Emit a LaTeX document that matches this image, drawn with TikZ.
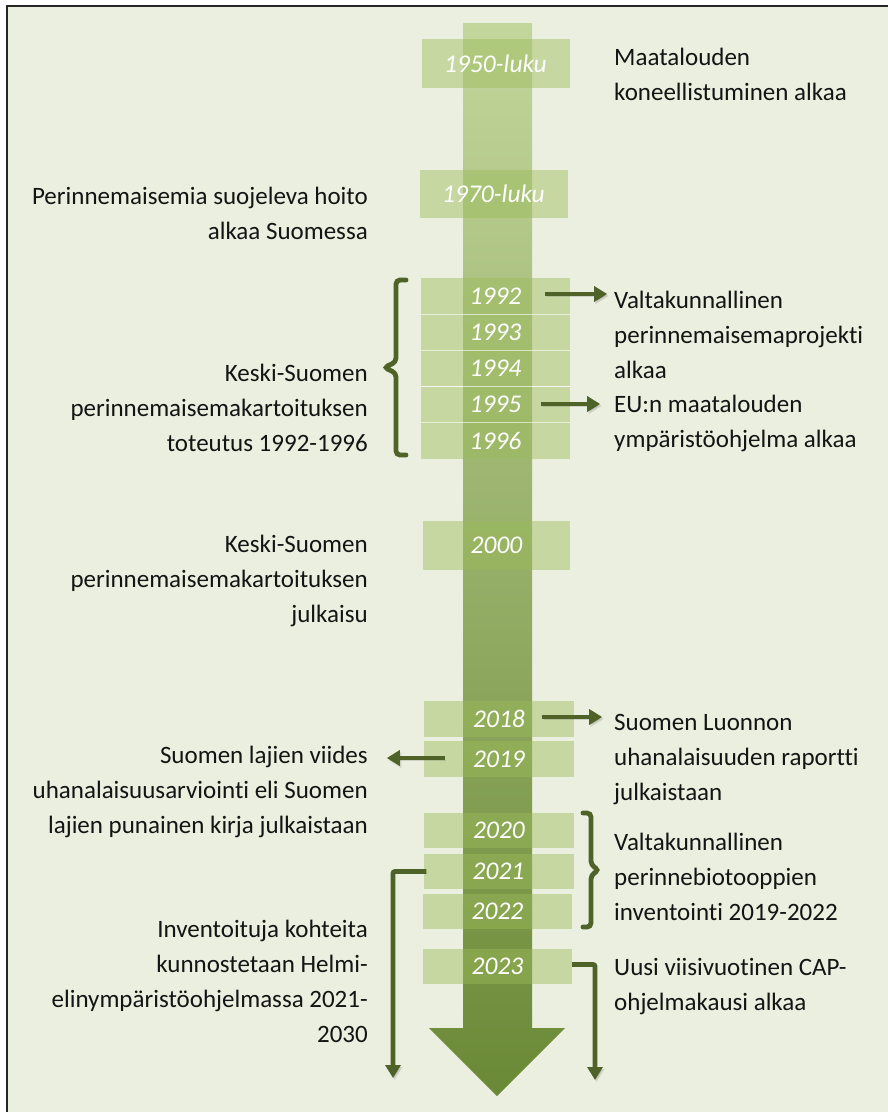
\documentclass[tikz,border=0pt]{standalone}
\usepackage{fontspec}
\setmainfont{Carlito}[Ligatures={NoCommon}]
\usetikzlibrary{arrows.meta}
\definecolor{bg}{HTML}{EBEFDF}
\definecolor{frame}{HTML}{262626}
\definecolor{arr}{HTML}{4F6228}
\definecolor{boxc}{HTML}{9BBB59}
\definecolor{coltop}{HTML}{C3D69C}
\definecolor{colmid}{HTML}{9FBE5F}
\definecolor{colbot}{HTML}{6A8936}
\tikzset{
  yearbox/.style={fill=boxc, fill opacity=0.45, text opacity=1, text=white,
    font=\fontsize{25.5}{30}\selectfont\itshape, inner sep=0pt,
    minimum width=148pt, minimum height=36pt},
  lbl/.style={font=\fontsize{25}{35}\selectfont, inner sep=0pt, text=black!92},
  lblL/.style={lbl, align=left, anchor=base west},
  lblR/.style={lbl, align=right, anchor=base east},
  softshadow/.style={preaction={draw=black!70, opacity=0.18, transform canvas={xshift=1.5pt,yshift=-2pt}}},
  arrowline/.style={softshadow, draw=arr, line width=4.8pt, -{Triangle[width=15pt,length=13pt]}},
  braceline/.style={softshadow, draw=arr, line width=4.8pt, rounded corners=4pt, line cap=round},
}
\begin{document}
\begin{tikzpicture}[x=1pt,y=-1pt]
\useasboundingbox (0,0) rectangle (888,1112);
\fill[white] (0,0) rectangle (888,1112);
\fill[bg] (7,5) rectangle (888,1112);
\draw[frame, line width=2pt] (6.5,1112) -- (6.5,5.5) -- (888,5.5);

% main column arrow
\shade[top color=coltop, middle color=colmid, bottom color=colbot]
  (463,23) -- (532,23) -- (532,1028) -- (565,1028) -- (497,1096) -- (429,1028) -- (463,1028) -- cycle;

% year boxes
\node[yearbox, minimum height=49pt] (y1950) at (495.5,63.5) {1950-luku};
\node[yearbox, minimum height=48pt] (y1970) at (493.5,194) {1970-luku};
\node[yearbox, minimum width=149pt] (y1992) at (495.5,296) {1992};
\node[yearbox, minimum width=149pt] (y1993) at (495.5,332) {1993};
\node[yearbox, minimum width=149pt] (y1994) at (495.5,368) {1994};
\node[yearbox, minimum width=149pt] (y1995) at (495.5,404.5) {1995};
\node[yearbox, minimum width=149pt] (y1996) at (495.5,441) {1996};
\draw[white, opacity=0.6, line width=1pt] (y1992.south west) -- (y1992.south east)
  (y1993.south west) -- (y1993.south east) (y1994.south west) -- (y1994.south east)
  (y1995.south west) -- (y1995.south east);
\node[yearbox, minimum width=147pt, minimum height=49pt] (y2000) at (496.5,545.5) {2000};
\node[yearbox, minimum width=150pt] (y2018) at (499,719) {2018};
\node[yearbox, minimum width=150pt] (y2019) at (499,759) {2019};
\node[yearbox, minimum width=150pt, minimum height=35pt] (y2020) at (499,830.5) {2020};
\node[yearbox, minimum width=150pt, minimum height=35pt] (y2021) at (498.5,871.5) {2021};
\node[yearbox, minimum width=149pt, minimum height=35pt] (y2022) at (497.5,911) {2022};
\node[yearbox, minimum width=149pt, minimum height=35pt] (y2023) at (497.5,966.5) {2023};

% texts right (anchored at the baseline of the last line)
\node[lblL] (t1950) at (614,100) {Maatalouden\\koneellistuminen alkaa};
\node[lblL] (t1992) at (614,378) {Valtakunnallinen\\perinnemaisemaprojekti\\alkaa};
\node[lblL] (t1995) at (614,447) {EU:n maatalouden\\ympäristöohjelma alkaa};
\node[lblL] (t2018) at (614,800) {Suomen Luonnon\\uhanalaisuuden raportti\\julkaistaan};
\node[lblL] (t2020) at (614,920) {Valtakunnallinen\\perinnebiotooppien\\inventointi 2019-2022};
\node[lblL] (t2023) at (614,1010) {Uusi viisivuotinen CAP-\\ohjelmakausi alkaa};

% texts left
\node[lblR] (t1970) at (368,239) {Perinnemaisemia suojeleva hoito\\alkaa Suomessa};
\node[lblR] (t9296) at (368,451) {Keski-Suomen\\perinnemaisemakartoituksen\\toteutus 1992-1996};
\node[lblR] (t2000) at (368,622) {Keski-Suomen\\perinnemaisemakartoituksen\\julkaisu};
\node[lblR] (t2019) at (368,833) {Suomen lajien viides\\uhanalaisuusarviointi eli Suomen\\lajien punainen kirja julkaistaan};
\node[lblR] (t2021) at (368,1042) {Inventoituja kohteita\\kunnostetaan Helmi-\\elinympäristöohjelmassa 2021-\\2030};

% free ends
\coordinate (e2021) at (393,1078);
\coordinate (e2023) at (595,1080);

% arrows
\draw[arrowline] ([xshift=-25pt,yshift=2pt]y1992.east) -- ++(62,0);
\draw[arrowline] ([xshift=-29pt,yshift=0.5pt]y1995.east) -- ++(59,0);
\draw[arrowline] ([xshift=-32pt,yshift=2pt]y2018.east) -- ++(60,0);
\draw[arrowline] ([xshift=21pt,yshift=1pt]y2019.west) -- ++(-58,0);
\draw[arrowline, rounded corners=2pt] ([xshift=3pt]y2021.west) -| (e2021);
\draw[arrowline, rounded corners=2pt] ([yshift=2pt]y2023.east) -| (e2023);

% braces
\draw[braceline] (406,280) -- (396,280) -- (396,362) -- (384,367.5) -- (396,373) -- (396,455) -- (406,455);
\draw[braceline] (583,813) -- (591,813) -- (591,865) -- (599,870) -- (591,875) -- (591,927) -- (583,927);
\end{tikzpicture}
\end{document}
